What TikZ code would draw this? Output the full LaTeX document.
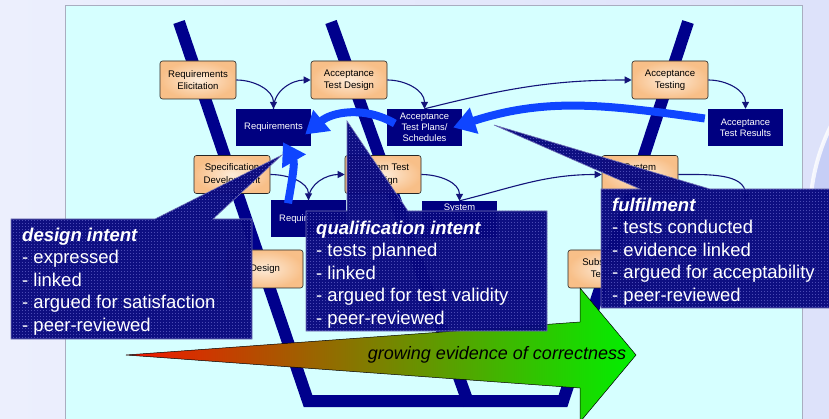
\documentclass[tikz,border=0pt]{standalone}
\usepackage{fontspec}
\setmainfont{Liberation Sans}
\usetikzlibrary{arrows.meta,patterns,calc}

\definecolor{bgL}{HTML}{ECEFFD}
\definecolor{bgR}{HTML}{DDE2FA}
\definecolor{ringfill}{HTML}{C6CEF6}
\definecolor{panel}{HTML}{D6FFFF}
\definecolor{paneledge}{HTML}{A9ADC0}
\definecolor{band}{HTML}{00008C}
\definecolor{artefact}{HTML}{000080}
\definecolor{peachin}{HTML}{FDEBD8}
\definecolor{peachout}{HTML}{F8BF88}
\definecolor{flowcol}{HTML}{14147A}
\definecolor{bigblue}{HTML}{0F45FF}
\definecolor{calloutfill}{HTML}{08087E}
\definecolor{calloutdots}{HTML}{4A4AB4}
\definecolor{calloutedge}{HTML}{7878B8}
\definecolor{arrred}{HTML}{F41400}
\definecolor{arrgreen}{HTML}{00F000}

% fine dither used on the callout panels
\pgfdeclarepatternformonly{dither}{\pgfpointorigin}{\pgfpoint{2.6pt}{2.6pt}}{\pgfpoint{2.6pt}{2.6pt}}{%
  \pgfpathrectangle{\pgfpointorigin}{\pgfpoint{0.9pt}{0.9pt}}%
  \pgfusepath{fill}}

\newcommand{\boxfont}{\fontsize{9.6}{12.5}\selectfont}
\newcommand{\artfont}{\fontsize{9.4}{11}\selectfont}
\newcommand{\calloutfont}{\fontsize{18.5}{22.5}\selectfont}

\begin{document}
\begin{tikzpicture}[x=1pt,y=-1pt,
  proc/.style={rectangle, rounded corners=2.5pt, draw=black!85, line width=0.6pt,
    inner color=peachin, outer color=peachout, minimum width=76pt, minimum height=38pt,
    inner sep=1pt, align=center, font=\boxfont},
  artbox/.style={rectangle, fill=artefact, text=white, minimum width=75pt,
    minimum height=37pt, inner sep=1pt, align=center, font=\artfont},
  flow/.style={draw=flowcol, line width=1.1pt, -{Triangle[length=7pt,width=7pt]}},
  feedback/.style={draw=bigblue, line width=8pt, -{Triangle[length=22pt,width=26pt]}},
  vband/.style={draw=band, line width=12pt, line join=miter},
  callout/.style={fill=calloutfill, fill opacity=0.97, draw=calloutedge, line width=0.6pt},
  callouttex/.style={pattern=dither, pattern color=calloutdots},
  callouttext/.style={text=white, font=\calloutfont, align=left, inner sep=0pt, anchor=north west},
]
\useasboundingbox (0,0) rectangle (829,419);
\clip (0,0) rectangle (829,419);

% slide backdrop with the ring on the right
\fill[left color=bgL, right color=bgR] (0,0) rectangle (829,419);
\fill[ringfill] (1010,215) circle (200);
\draw[white, opacity=0.8, line width=4pt] (1010,215) circle (200);

% content panel
\filldraw[fill=panel, draw=paneledge, line width=0.8pt] (65,5) rectangle (802,440);

% the V bands
\draw[vband] (179,22) -- (308,401) -- (563,401) -- (688,22);
\draw[vband] (331,22) -- (469,405);

% process steps
\node[proc] (RE)  at (198,80)    {Requirements\\Elicitation};
\node[proc] (ATD) at (349,80)    {Acceptance\\Test Design};
\node[proc] (AT)  at (670,80)    {Acceptance\\Testing};
\node[proc] (SD)  at (232,174.5) {Specification\\Development};
\node[proc] (STD) at (383,174.5) {System Test\\Design};
\node[proc] (ST)  at (640,174.5) {System\\Testing};
\node[proc] (DES) at (265,269)   {Design};
\node[proc] (SBT) at (606,269)   {Subsystem\\Testing};

% artefacts
\node[artbox] (REQ)  at (273.5,127.5) {Requirements};
\node[artbox] (ATPS) at (424.5,127.5) {Acceptance\\Test Plans/\\Schedules};
\node[artbox] (ATR)  at (745.5,127.5) {Acceptance\\Test Results};
\node[artbox] (REQ2) at (308.5,219)   {Requirements};
\node[artbox, minimum height=37pt, text depth=24pt] (STPS) at (459.5,219.5) {System};
\coordinate (STR) at (745.5,201);

% production / consumption flows
\draw[flow] (RE.east)   to[out=0,in=90]    (REQ.north);
\draw[flow] (REQ.north) to[out=90,in=180]  (ATD.west);
\draw[flow] (ATD.east)  to[out=0,in=90]    (ATPS.north);
\draw[flow] (ATPS.north) to[out=14,in=180] (AT.west);
\draw[flow] (AT.east)   to[out=0,in=90]    (ATR.north);
\draw[flow] (SD.east)   to[out=0,in=90]    (REQ2.north);
\draw[flow] (REQ2.north) to[out=90,in=180] (STD.west);
\draw[flow] (STD.east)  to[out=0,in=90]    (STPS.north);
\draw[flow] (STPS.north) to[out=14,in=180] (ST.west);
\draw[flow] (ST.east)   to[out=0,in=90]    (STR);

% evidence feeding back
\draw[feedback] ([xshift=-3pt,yshift=9pt]ATR.west) to[out=172,in=18] ([xshift=-9pt]ATPS.east);
\draw[feedback] ([xshift=8pt,yshift=4pt]ATPS.west) to[out=150,in=40] ([xshift=-6pt,yshift=-7pt]REQ.east);
\draw[feedback] ([xshift=-20.5pt,yshift=-3pt]REQ2.north) to[out=80,in=-60] ([xshift=9.5pt,yshift=4pt]REQ.south);

% growing evidence arrow
\shade[left color=arrred, right color=arrgreen, draw=black, line width=0.5pt]
  (126,355) -- (580,322) -- (580,288) -- (636,355) -- (580,422) -- (580,388) -- cycle;
\node[font=\fontsize{18}{20}\selectfont\itshape, inner sep=0pt] (growth) at (497,355)
  {growing evidence of correctness};

% callouts
\path[callout] (11,219) -- (155,219) -- (282,155) -- (213,219) -- (252,219)
  -- (252,339) -- (11,339) -- cycle;
\path[callouttex] (11,219) -- (155,219) -- (282,155) -- (213,219) -- (252,219)
  -- (252,339) -- (11,339) -- cycle;
\node[callouttext] (design) at (22,227.5)
  {\textbf{\textit{design intent}}\\- expressed\\- linked\\- argued for satisfaction\\- peer-reviewed};

\path[callout] (306,211) -- (347,211) -- (347,121) -- (408,211) -- (547,211)
  -- (547,331) -- (306,331) -- cycle;
\path[callouttex] (306,211) -- (347,211) -- (347,121) -- (408,211) -- (547,211)
  -- (547,331) -- (306,331) -- cycle;
\node[callouttext] (qual) at (316,220.5)
  {\textbf{\textit{qualification intent}}\\- tests planned\\- linked\\- argued for test validity\\- peer-reviewed};

\path[callout] (601,189) -- (640,189) -- (494,125) -- (710,189) -- (832,189)
  -- (832,308) -- (601,308) -- cycle;
\path[callouttex] (601,189) -- (640,189) -- (494,125) -- (710,189) -- (832,189)
  -- (832,308) -- (601,308) -- cycle;
\node[callouttext] (fulfil) at (612,197.5)
  {\textbf{\textit{fulfilment}}\\- tests conducted\\- evidence linked\\- argued for acceptability\\- peer-reviewed};
\end{tikzpicture}
\end{document}
